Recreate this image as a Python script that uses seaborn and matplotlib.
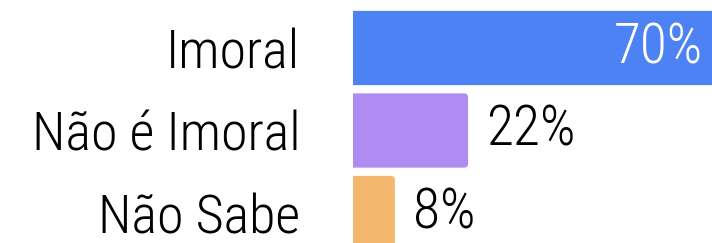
import numpy as np
import pandas as pd
import seaborn as sns
import matplotlib.pyplot as plt
from matplotlib.patches import FancyBboxPatch

categories = ['Imoral', 'Não é Imoral', 'Não Sabe']
values = [70, 22, 8]
colors = ['#4d82f5', '#af8cf2', '#f3b76d']

sns.set_style('white')
plt.rcParams['font.family'] = ['Roboto Condensed', 'DejaVu Sans']
plt.rcParams['font.stretch'] = 'condensed'
plt.rcParams['font.weight'] = 'light'
plt.rcParams['text.color'] = 'black'

df = pd.DataFrame({'cat': categories, 'val': values})

fig = plt.figure(figsize=(7.12, 2.43), dpi=100)
ax = fig.add_axes([353 / 712, 0, 359 / 712, 1])

sns.barplot(data=df, x='val', y='cat', hue='cat', palette=colors,
            saturation=1, width=0.9, legend=False, ax=ax)

# swap the plain rectangles for ones with slightly rounded ends
px_per_x = 5.23
px_per_y = 82.5
for p in list(ax.patches):
    x, y, w, h = p.get_x(), p.get_y(), p.get_width(), p.get_height()
    r = 4 / px_per_x
    fb = FancyBboxPatch((x - 2 * r, y), w + 2 * r, h,
                        boxstyle=f'round,pad=0,rounding_size={r}',
                        mutation_aspect=px_per_x / px_per_y,
                        facecolor=p.get_facecolor(), edgecolor='none')
    p.remove()
    ax.add_patch(fb)

ax.set_xlim(0, 359 / px_per_x)
ax.set_ylim((243 - 48) / px_per_y, -48 / px_per_y)

for i, v in enumerate(values):
    if v > 50:
        ax.annotate(f'{v}%', (v, i), xytext=(-12, 0), textcoords='offset points',
                    ha='right', va='center', fontsize=40, color='white',
                    annotation_clip=False)
    else:
        ax.annotate(f'{v}%', (v, i), xytext=(13, 0), textcoords='offset points',
                    ha='left', va='center', fontsize=40, color='black')

ax.set_xlabel('')
ax.set_ylabel('')
ax.set_xticks([])
ax.tick_params(axis='y', length=0, pad=38, labelsize=39, labelcolor='black')
sns.despine(ax=ax, left=True, bottom=True)

fig.savefig('out.png', dpi=100)
